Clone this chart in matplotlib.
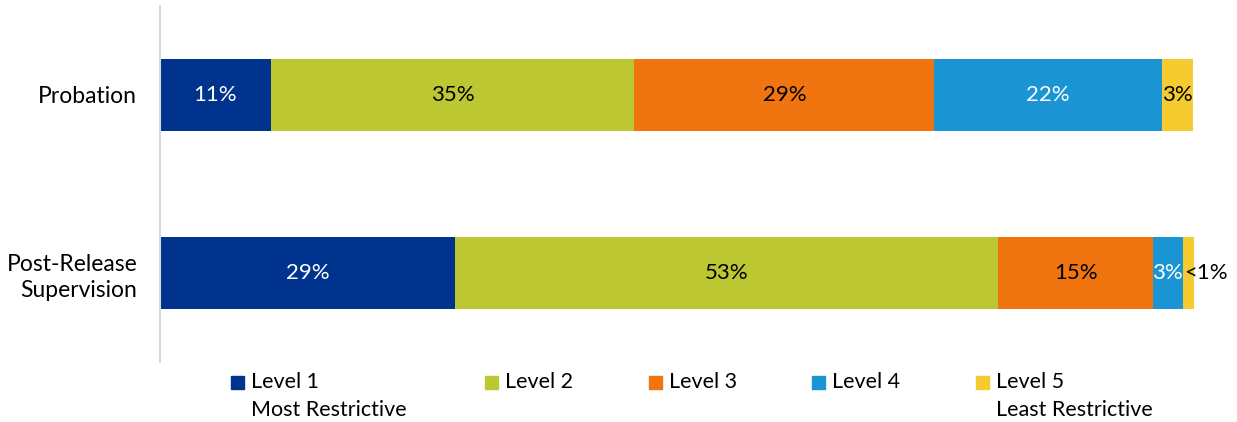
import numpy as np
import matplotlib
matplotlib.use("Agg")
import matplotlib.pyplot as plt
from matplotlib.patches import Rectangle

plt.rcParams['font.family'] = ['Lato', 'DejaVu Sans']

categories = ["Probation", "Post-Release\nSupervision"]
levels = ["Level 1", "Level 2", "Level 3", "Level 4", "Level 5"]
level_notes = ["Most Restrictive", "", "", "", "Least Restrictive"]
probation = [10.8, 35.1, 29.0, 22.0, 3.0]
post_release = [28.6, 52.5, 14.9, 2.9, 1.1]
probation_labels = ["11%", "35%", "29%", "22%", "3%"]
post_release_labels = ["29%", "53%", "15%", "3%", "<1%"]

colors = ["#00338D", "#BDC731", "#F07510", "#1A94D2", "#F5CB2F"]
text_colors = ["white", "black", "black", "white", "black"]

W, H = 1237, 422
fig = plt.figure(figsize=(W / 100, H / 100), dpi=100)
ax = fig.add_axes([159.5 / W, (H - 362) / H, (1194 - 159.5) / W, 356 / H])

values = np.array([probation, post_release])
labels = [probation_labels, post_release_labels]
y = np.arange(len(categories))
left = np.zeros(len(categories))
for i in range(len(levels)):
    bars = ax.barh(y, values[:, i], left=left, height=0.4, color=colors[i],
                   edgecolor="none")
    for j, b in enumerate(bars):
        cx = b.get_x() + b.get_width() / 2
        txt = labels[j][i]
        if txt == "<1%":
            ax.text(b.get_x() + b.get_width() - 0.9, y[j], txt, ha="left",
                    va="center", fontsize=16, color="black")
        else:
            ax.text(cx, y[j], txt, ha="center", va="center", fontsize=16,
                    color=text_colors[i])
    left += values[:, i]

ax.set_xlim(0, 100)
ax.set_ylim(1.5, -0.5)
ax.set_yticks(y)
ax.set_yticklabels(categories, fontsize=16.5, linespacing=1.3)
ax.tick_params(axis="y", length=0, pad=16)
ax.set_xticks([])
for s in ["top", "right", "bottom"]:
    ax.spines[s].set_visible(False)
ax.spines["left"].set_color("#D9D9D9")
ax.spines["left"].set_linewidth(1.5)

# legend
leg_x = [231, 485, 649, 812, 976]
for i in range(len(levels)):
    x0 = leg_x[i]
    fig.patches.append(Rectangle((x0 / W, (H - 389) / H), 13 / W, 13 / H,
                                 transform=fig.transFigure, color=colors[i]))
    fig.text((x0 + 20) / W, (H - 382) / H, levels[i], ha="left",
             va="center", fontsize=15.5)
    if level_notes[i]:
        fig.text((x0 + 20) / W, (H - 410) / H, level_notes[i], ha="left",
                 va="center", fontsize=15.5)

fig.savefig("out.png", dpi=100)
